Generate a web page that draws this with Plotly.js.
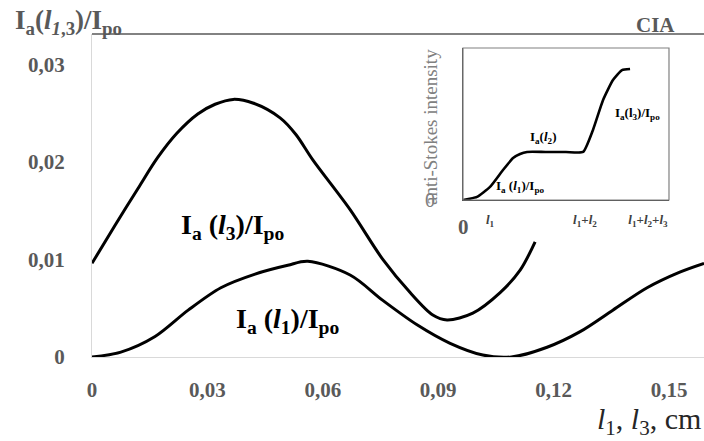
<!DOCTYPE html>
<html><head><meta charset="utf-8">
<script src="https://cdn.plot.ly/plotly-3.0.1.min.js"></script>
<style>html,body{margin:0;padding:0;background:#fff}</style>
</head><body><div id="chart" style="width:704px;height:441px"></div>
<script>
// Main chart: I_a(l1)/I_po
const xL1 = [0, 0.0075, 0.0164, 0.0250, 0.0335, 0.0424, 0.0509, 0.0561, 0.0671, 0.0756, 0.0845, 0.0931, 0.1016, 0.1090, 0.1183, 0.1269, 0.1354, 0.1443, 0.1528, 0.1591];
const yL1 = [0, 0.0005, 0.0021, 0.0048, 0.0071, 0.0085, 0.0094, 0.0098, 0.0084, 0.0058, 0.0033, 0.0014, 0.0002, 0, 0.0010, 0.0026, 0.0048, 0.0071, 0.0087, 0.0096];
// Main chart: I_a(l3)/I_po
const xL3 = [0, 0.0060, 0.0120, 0.0170, 0.0220, 0.0275, 0.0320, 0.0367, 0.0420, 0.0489, 0.0530, 0.0574, 0.0671, 0.0756, 0.0827, 0.0886, 0.0923, 0.0990, 0.1061, 0.1113, 0.1152];
const yL3 = [0.0096, 0.0135, 0.0173, 0.0204, 0.0229, 0.0249, 0.0259, 0.0264, 0.0260, 0.0245, 0.0228, 0.0202, 0.0151, 0.0100, 0.0066, 0.0043, 0.0038, 0.0045, 0.0066, 0.0089, 0.0118];
// Inset: anti-Stokes intensity along l1 + l2 + l3 (normalised)
const xInset = [0, 0.068, 0.131, 0.194, 0.243, 0.277, 0.311, 0.400, 0.500, 0.583, 0.631, 0.680, 0.728, 0.772, 0.811];
const yInset = [0, 0.020, 0.086, 0.197, 0.276, 0.303, 0.316, 0.316, 0.316, 0.316, 0.461, 0.658, 0.789, 0.855, 0.862];
// Tick labels
const xTickVals = [0, 0.03, 0.06, 0.09, 0.12, 0.15];
const xTickText = ['0', '0,03', '0,06', '0,09', '0,12', '0,15'];
const yTickVals = [0, 0.01, 0.02, 0.03];
const yTickText = ['0', '0,01', '0,02', '0,03'];
const insetTickVals = [0.131, 0.592, 0.898];
const insetTickText = ['<i>l</i><sub>1</sub>', '<i>l</i><sub>1</sub>+<i>l</i><sub>2</sub>', '<i>l</i><sub>1</sub>+<i>l</i><sub>2</sub>+<i>l</i><sub>3</sub>'];

const serif = 'Liberation Serif, Times New Roman, serif';
const gray = '#595959';

const traces = [
  {x: xL3, y: yL3, mode: 'lines', line: {color: '#000', width: 3, shape: 'spline', smoothing: 0.9}, xaxis: 'x', yaxis: 'y', hoverinfo: 'skip'},
  {x: xL1, y: yL1, mode: 'lines', line: {color: '#000', width: 3, shape: 'spline', smoothing: 0.9}, xaxis: 'x', yaxis: 'y', hoverinfo: 'skip'},
  {x: xInset, y: yInset, mode: 'lines', line: {color: '#000', width: 2.6, shape: 'spline', smoothing: 0.5}, xaxis: 'x2', yaxis: 'y2', hoverinfo: 'skip'}
];

const layout = {
  width: 704, height: 441,
  margin: {l: 92, r: 0, t: 34, b: 84},
  paper_bgcolor: '#fff', plot_bgcolor: 'rgba(0,0,0,0)',
  showlegend: false,
  xaxis: {
    range: [0, 0.1591], tickvals: xTickVals, ticktext: xTickText,
    showline: true, linecolor: '#d9d9d9', linewidth: 1, showgrid: false, zeroline: false,
    ticks: '', ticklabelstandoff: 14,
    tickfont: {family: serif, size: 21, color: gray, weight: 'bold'}
  },
  yaxis: {
    range: [0, 0.0331], tickvals: yTickVals, ticktext: yTickText,
    showline: true, linecolor: '#d9d9d9', linewidth: 1, showgrid: false, zeroline: false,
    ticks: '', ticklabelstandoff: 22,
    tickfont: {family: serif, size: 21, color: gray, weight: 'bold'}
  },
  xaxis2: {
    domain: [0.6062, 0.9428], anchor: 'y2', range: [0, 1],
    tickvals: insetTickVals, ticktext: insetTickText,
    showline: true, linecolor: '#404040', linewidth: 1.5, showgrid: false, zeroline: false,
    ticks: '', ticklabelstandoff: 7,
    tickfont: {family: serif, size: 13, color: '#404040', weight: 'bold'}
  },
  yaxis2: {
    domain: [0.4861, 0.9567], anchor: 'x2', range: [0, 1],
    showticklabels: false, showline: true, linecolor: '#404040', linewidth: 1.2,
    showgrid: false, zeroline: false, ticks: ''
  },
  shapes: [
    {type: 'line', xref: 'paper', yref: 'paper', x0: 0, x1: 1, y0: 1, y1: 1, line: {color: gray, width: 1.5}},
    {type: 'rect', xref: 'x2 domain', yref: 'y2 domain', x0: 0, x1: 1, y0: 0, y1: 1, line: {color: '#808080', width: 1.2}}
  ],
  annotations: [
    {xref: 'paper', yref: 'paper', x: -0.129, y: 1.036, xanchor: 'left', yanchor: 'middle', showarrow: false,
     text: 'I<sub>a</sub>(<i>l</i><sub><i>1</i>,3</sub>)/I<sub>po</sub>', font: {family: serif, size: 27, color: gray, weight: 'bold'}},
    {xref: 'paper', yref: 'paper', x: 0.92, y: 1.028, xanchor: 'center', yanchor: 'middle', showarrow: false,
     text: 'CIA', font: {family: serif, size: 21, color: gray, weight: 'bold'}},
    {xref: 'paper', yref: 'paper', x: 0.9967, y: -0.199, xanchor: 'right', yanchor: 'middle', showarrow: false, borderpad: 0,
     text: '<i>l</i><sub>1</sub>, <i>l</i><sub>3</sub>, cm', font: {family: serif, size: 30, color: '#262626'}},
    {xref: 'x', yref: 'y', x: 0.0367, y: 0.0134, xanchor: 'center', yanchor: 'middle', showarrow: false,
     text: 'I<sub>a</sub> (<i>l</i><sub>3</sub>)/I<sub>po</sub>', font: {family: serif, size: 28, color: '#000', weight: 'bold'}},
    {xref: 'x', yref: 'y', x: 0.0509, y: 0.0037, xanchor: 'center', yanchor: 'middle', showarrow: false,
     text: 'I<sub>a</sub> (<i>l</i><sub>1</sub>)/I<sub>po</sub>', font: {family: serif, size: 28, color: '#000', weight: 'bold'}},
    {xref: 'x2', yref: 'y2', x: 0.388, y: 0.414, xanchor: 'center', yanchor: 'middle', showarrow: false,
     text: 'I<sub>a</sub>(<i>l</i><sub>2</sub>)', font: {family: serif, size: 13, color: '#000', weight: 'bold'}},
    {xref: 'x2', yref: 'y2', x: 0.845, y: 0.572, xanchor: 'center', yanchor: 'middle', showarrow: false,
     text: 'I<sub>a</sub>(l<sub>3</sub>)/I<sub>po</sub>', font: {family: serif, size: 13, color: '#000', weight: 'bold'}},
    {xref: 'x2', yref: 'y2', x: 0.277, y: 0.09, xanchor: 'center', yanchor: 'middle', showarrow: false,
     text: 'I<sub>a</sub> (<i>l</i><sub>1</sub>)/I<sub>po</sub>', font: {family: serif, size: 13, color: '#000', weight: 'bold'}},
    {xref: 'paper', yref: 'paper', x: 0.6078, y: 0.4025, xanchor: 'center', yanchor: 'middle', showarrow: false,
     text: '0', font: {family: serif, size: 21, color: gray, weight: 'bold'}},
    {xref: 'paper', yref: 'paper', x: 0.5523, y: 0.4861, xanchor: 'center', yanchor: 'middle', showarrow: false,
     text: '0', font: {family: serif, size: 20, color: '#7f7f7f'}},
    {xref: 'paper', yref: 'paper', x: 0.5523, y: 0.712, xanchor: 'center', yanchor: 'middle', showarrow: false, textangle: -90,
     text: 'anti-Stokes intensity', font: {family: serif, size: 19, color: '#808080'}}
  ]
};

Plotly.newPlot('chart', traces, layout, {staticPlot: true, displayModeBar: false});
</script>
</body></html>
